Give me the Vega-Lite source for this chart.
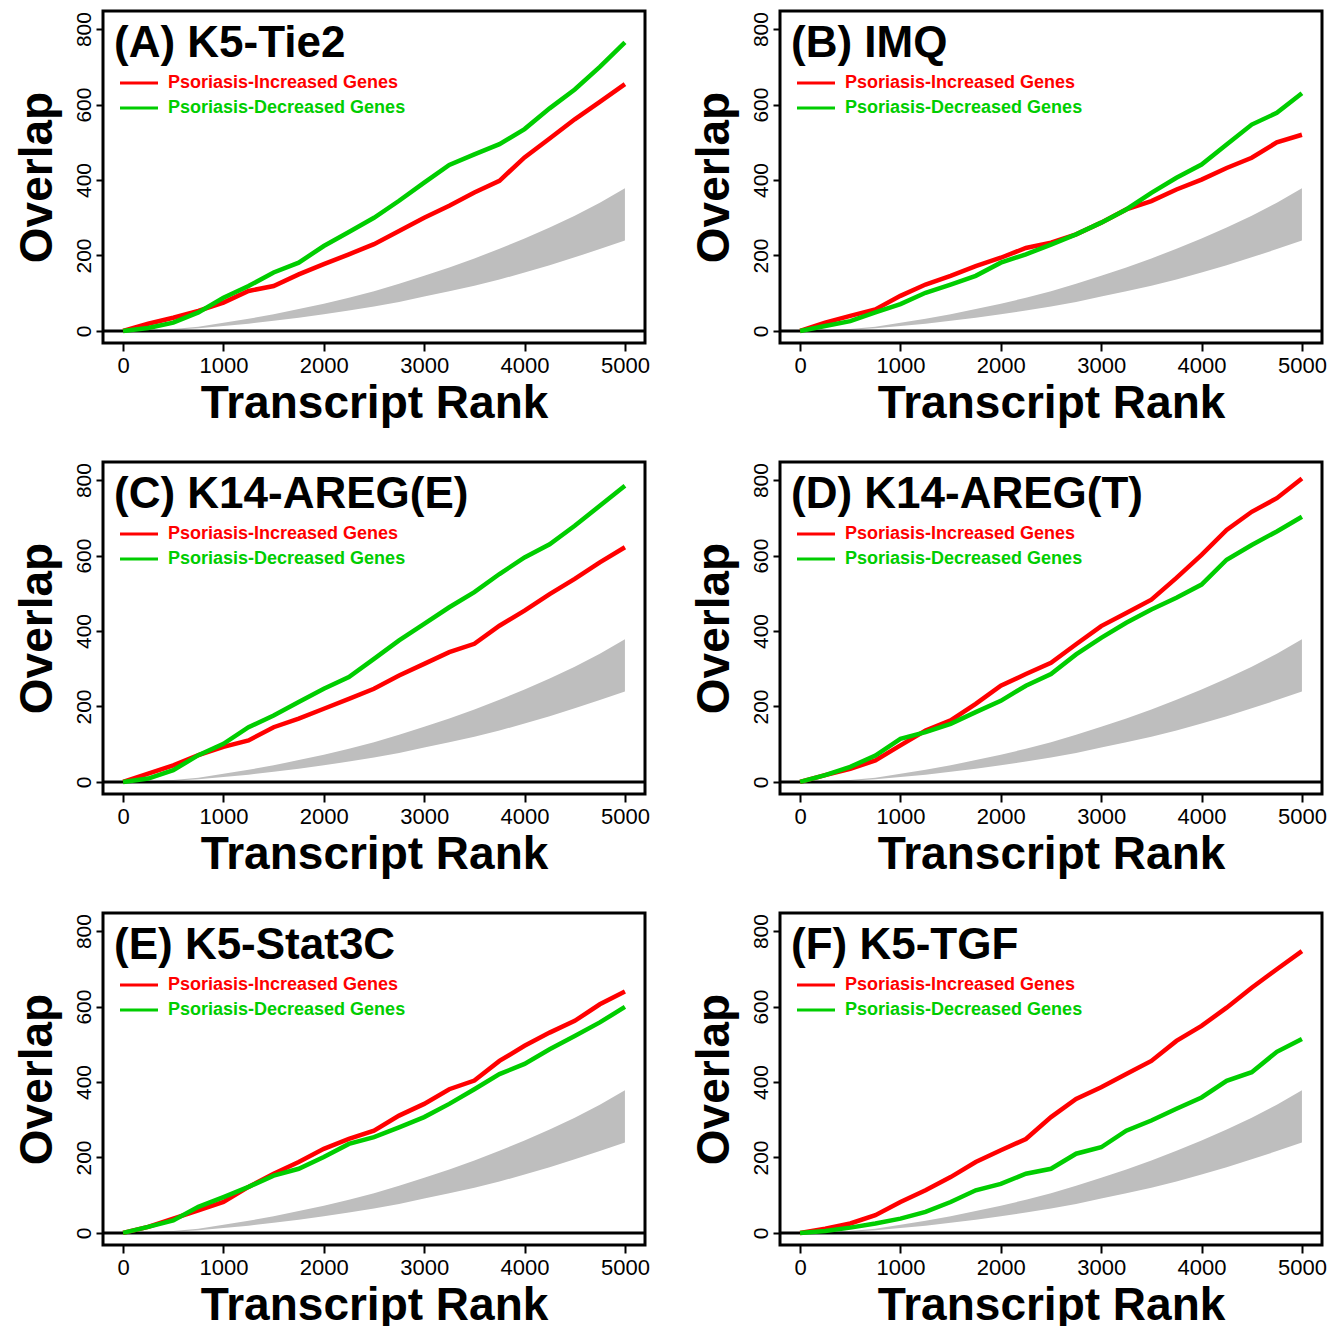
{
"$schema": "https://vega.github.io/schema/vega-lite/v6.json",
"padding": {"left": 12, "top": 9, "right": 0, "bottom": 0},
"background": "white",
"datasets": {
"band": [
{"x":0,"lower":0,"upper":0},{"x":250,"lower":1,"upper":2},{"x":500,"lower":3,"upper":5},{"x":750,"lower":7,"upper":11},{"x":1000,"lower":13,"upper":22},{"x":1250,"lower":19,"upper":32},{"x":1500,"lower":27,"upper":44},{"x":1750,"lower":35,"upper":58},{"x":2000,"lower":44,"upper":72},{"x":2250,"lower":54,"upper":88},{"x":2500,"lower":65,"upper":105},{"x":2750,"lower":77,"upper":125},{"x":3000,"lower":91,"upper":146},{"x":3250,"lower":105,"upper":168},{"x":3500,"lower":120,"upper":192},{"x":3750,"lower":136,"upper":218},{"x":4000,"lower":155,"upper":245},{"x":4250,"lower":174,"upper":274},{"x":4500,"lower":195,"upper":305},{"x":4750,"lower":217,"upper":340},{"x":5000,"lower":240,"upper":378}
],
"zero": [{"y":0}],
"lines": [
{"p":"A","x":0,"inc":0,"dec":0},{"p":"A","x":250,"inc":19,"dec":8},{"p":"A","x":500,"inc":35,"dec":22},{"p":"A","x":750,"inc":53,"dec":49},{"p":"A","x":1000,"inc":75,"dec":88},{"p":"A","x":1250,"inc":106,"dec":119},{"p":"A","x":1500,"inc":119,"dec":155},{"p":"A","x":1750,"inc":150,"dec":181},{"p":"A","x":2000,"inc":177,"dec":225},{"p":"A","x":2250,"inc":203,"dec":262},{"p":"A","x":2500,"inc":230,"dec":300},{"p":"A","x":2750,"inc":265,"dec":345},{"p":"A","x":3000,"inc":300,"dec":393},{"p":"A","x":3250,"inc":332,"dec":440},{"p":"A","x":3500,"inc":367,"dec":468},{"p":"A","x":3750,"inc":398,"dec":495},{"p":"A","x":4000,"inc":460,"dec":535},{"p":"A","x":4250,"inc":510,"dec":590},{"p":"A","x":4500,"inc":561,"dec":640},{"p":"A","x":4750,"inc":607,"dec":700},{"p":"A","x":5000,"inc":654,"dec":765},
{"p":"B","x":0,"inc":0,"dec":0},{"p":"B","x":250,"inc":22,"dec":13},{"p":"B","x":500,"inc":40,"dec":26},{"p":"B","x":750,"inc":57,"dec":49},{"p":"B","x":1000,"inc":93,"dec":71},{"p":"B","x":1250,"inc":123,"dec":101},{"p":"B","x":1500,"inc":146,"dec":123},{"p":"B","x":1750,"inc":172,"dec":146},{"p":"B","x":2000,"inc":194,"dec":181},{"p":"B","x":2250,"inc":220,"dec":203},{"p":"B","x":2500,"inc":234,"dec":229},{"p":"B","x":2750,"inc":256,"dec":256},{"p":"B","x":3000,"inc":287,"dec":287},{"p":"B","x":3250,"inc":322,"dec":322},{"p":"B","x":3500,"inc":344,"dec":366},{"p":"B","x":3750,"inc":375,"dec":406},{"p":"B","x":4000,"inc":401,"dec":441},{"p":"B","x":4250,"inc":432,"dec":494},{"p":"B","x":4500,"inc":459,"dec":547},{"p":"B","x":4750,"inc":500,"dec":578},{"p":"B","x":5000,"inc":520,"dec":630},
{"p":"C","x":0,"inc":0,"dec":0},{"p":"C","x":250,"inc":22,"dec":9},{"p":"C","x":500,"inc":44,"dec":31},{"p":"C","x":750,"inc":71,"dec":71},{"p":"C","x":1000,"inc":93,"dec":101},{"p":"C","x":1250,"inc":110,"dec":145},{"p":"C","x":1500,"inc":145,"dec":176},{"p":"C","x":1750,"inc":168,"dec":212},{"p":"C","x":2000,"inc":194,"dec":247},{"p":"C","x":2250,"inc":220,"dec":278},{"p":"C","x":2500,"inc":247,"dec":326},{"p":"C","x":2750,"inc":282,"dec":375},{"p":"C","x":3000,"inc":313,"dec":419},{"p":"C","x":3250,"inc":344,"dec":463},{"p":"C","x":3500,"inc":366,"dec":503},{"p":"C","x":3750,"inc":414,"dec":551},{"p":"C","x":4000,"inc":454,"dec":595},{"p":"C","x":4250,"inc":498,"dec":630},{"p":"C","x":4500,"inc":538,"dec":679},{"p":"C","x":4750,"inc":582,"dec":732},{"p":"C","x":5000,"inc":622,"dec":785},
{"p":"D","x":0,"inc":0,"dec":0},{"p":"D","x":250,"inc":18,"dec":18},{"p":"D","x":500,"inc":35,"dec":40},{"p":"D","x":750,"inc":57,"dec":70},{"p":"D","x":1000,"inc":97,"dec":114},{"p":"D","x":1250,"inc":136,"dec":132},{"p":"D","x":1500,"inc":163,"dec":154},{"p":"D","x":1750,"inc":207,"dec":185},{"p":"D","x":2000,"inc":255,"dec":215},{"p":"D","x":2250,"inc":286,"dec":255},{"p":"D","x":2500,"inc":316,"dec":286},{"p":"D","x":2750,"inc":365,"dec":338},{"p":"D","x":3000,"inc":413,"dec":382},{"p":"D","x":3250,"inc":448,"dec":422},{"p":"D","x":3500,"inc":483,"dec":457},{"p":"D","x":3750,"inc":541,"dec":488},{"p":"D","x":4000,"inc":602,"dec":523},{"p":"D","x":4250,"inc":668,"dec":589},{"p":"D","x":4500,"inc":716,"dec":628},{"p":"D","x":4750,"inc":752,"dec":664},{"p":"D","x":5000,"inc":804,"dec":703},
{"p":"E","x":0,"inc":0,"dec":0},{"p":"E","x":250,"inc":16,"dec":16},{"p":"E","x":500,"inc":38,"dec":33},{"p":"E","x":750,"inc":60,"dec":69},{"p":"E","x":1000,"inc":82,"dec":95},{"p":"E","x":1250,"inc":122,"dec":122},{"p":"E","x":1500,"inc":157,"dec":152},{"p":"E","x":1750,"inc":188,"dec":170},{"p":"E","x":2000,"inc":223,"dec":201},{"p":"E","x":2250,"inc":249,"dec":236},{"p":"E","x":2500,"inc":271,"dec":254},{"p":"E","x":2750,"inc":311,"dec":280},{"p":"E","x":3000,"inc":342,"dec":307},{"p":"E","x":3250,"inc":381,"dec":342},{"p":"E","x":3500,"inc":404,"dec":381},{"p":"E","x":3750,"inc":456,"dec":421},{"p":"E","x":4000,"inc":496,"dec":448},{"p":"E","x":4250,"inc":531,"dec":487},{"p":"E","x":4500,"inc":562,"dec":522},{"p":"E","x":4750,"inc":606,"dec":558},{"p":"E","x":5000,"inc":640,"dec":599},
{"p":"F","x":0,"inc":0,"dec":0},{"p":"F","x":250,"inc":11,"dec":5},{"p":"F","x":500,"inc":25,"dec":14},{"p":"F","x":750,"inc":47,"dec":25},{"p":"F","x":1000,"inc":82,"dec":38},{"p":"F","x":1250,"inc":113,"dec":56},{"p":"F","x":1500,"inc":148,"dec":82},{"p":"F","x":1750,"inc":188,"dec":113},{"p":"F","x":2000,"inc":219,"dec":130},{"p":"F","x":2250,"inc":249,"dec":157},{"p":"F","x":2500,"inc":307,"dec":170},{"p":"F","x":2750,"inc":355,"dec":210},{"p":"F","x":3000,"inc":386,"dec":227},{"p":"F","x":3250,"inc":421,"dec":271},{"p":"F","x":3500,"inc":456,"dec":298},{"p":"F","x":3750,"inc":509,"dec":329},{"p":"F","x":4000,"inc":549,"dec":359},{"p":"F","x":4250,"inc":597,"dec":403},{"p":"F","x":4500,"inc":650,"dec":426},{"p":"F","x":4750,"inc":699,"dec":480},{"p":"F","x":5000,"inc":747,"dec":514}
]
},
"columns": 2,
"spacing": {"row": 119, "column": 135},
"bounds": "flush",
"resolve": {"legend": {"color": "independent"}},
"concat": [
{"width": 542, "height": 332, "layer": [
 {"data": {"name": "band"}, "mark": {"type": "area", "color": "#bebebe"}, "encoding": {"x": {"field": "x", "type": "quantitative", "title": "Transcript Rank", "scale": {"domain": [-200, 5200], "nice": false, "zero": false}, "axis": {"values": [0,1000,2000,3000,4000,5000], "format": "d"}}, "y": {"field": "upper", "type": "quantitative", "title": "Overlap", "scale": {"domain": [-32, 848], "nice": false, "zero": false}, "axis": {"values": [0,200,400,600,800], "format": "d"}}, "y2": {"field": "lower"}}},
 {"data": {"name": "zero"}, "mark": {"type": "rule", "color": "black", "strokeWidth": 3}, "encoding": {"y": {"field": "y", "type": "quantitative", "title": "Overlap"}}},
 {"data": {"name": "lines"}, "transform": [{"filter": "datum.p == 'A'"}, {"fold": ["inc", "dec"], "as": ["series", "overlap"]}], "mark": {"type": "line", "strokeWidth": 4.5}, "encoding": {"x": {"field": "x", "type": "quantitative", "title": "Transcript Rank"}, "y": {"field": "overlap", "type": "quantitative", "title": "Overlap"}, "color": {"field": "series", "type": "nominal", "scale": {"domain": ["inc", "dec"], "range": ["#ff0000", "#00cd00"]}, "legend": {"title": "(A) K5-Tie2", "labelExpr": "datum.value == 'inc' ? 'Psoriasis-Increased Genes' : 'Psoriasis-Decreased Genes'"}}}}
]},
{"width": 542, "height": 332, "layer": [
 {"data": {"name": "band"}, "mark": {"type": "area", "color": "#bebebe"}, "encoding": {"x": {"field": "x", "type": "quantitative", "title": "Transcript Rank", "scale": {"domain": [-200, 5200], "nice": false, "zero": false}, "axis": {"values": [0,1000,2000,3000,4000,5000], "format": "d"}}, "y": {"field": "upper", "type": "quantitative", "title": "Overlap", "scale": {"domain": [-32, 848], "nice": false, "zero": false}, "axis": {"values": [0,200,400,600,800], "format": "d"}}, "y2": {"field": "lower"}}},
 {"data": {"name": "zero"}, "mark": {"type": "rule", "color": "black", "strokeWidth": 3}, "encoding": {"y": {"field": "y", "type": "quantitative", "title": "Overlap"}}},
 {"data": {"name": "lines"}, "transform": [{"filter": "datum.p == 'B'"}, {"fold": ["inc", "dec"], "as": ["series", "overlap"]}], "mark": {"type": "line", "strokeWidth": 4.5}, "encoding": {"x": {"field": "x", "type": "quantitative", "title": "Transcript Rank"}, "y": {"field": "overlap", "type": "quantitative", "title": "Overlap"}, "color": {"field": "series", "type": "nominal", "scale": {"domain": ["inc", "dec"], "range": ["#ff0000", "#00cd00"]}, "legend": {"title": "(B) IMQ", "labelExpr": "datum.value == 'inc' ? 'Psoriasis-Increased Genes' : 'Psoriasis-Decreased Genes'"}}}}
]},
{"width": 542, "height": 332, "layer": [
 {"data": {"name": "band"}, "mark": {"type": "area", "color": "#bebebe"}, "encoding": {"x": {"field": "x", "type": "quantitative", "title": "Transcript Rank", "scale": {"domain": [-200, 5200], "nice": false, "zero": false}, "axis": {"values": [0,1000,2000,3000,4000,5000], "format": "d"}}, "y": {"field": "upper", "type": "quantitative", "title": "Overlap", "scale": {"domain": [-32, 848], "nice": false, "zero": false}, "axis": {"values": [0,200,400,600,800], "format": "d"}}, "y2": {"field": "lower"}}},
 {"data": {"name": "zero"}, "mark": {"type": "rule", "color": "black", "strokeWidth": 3}, "encoding": {"y": {"field": "y", "type": "quantitative", "title": "Overlap"}}},
 {"data": {"name": "lines"}, "transform": [{"filter": "datum.p == 'C'"}, {"fold": ["inc", "dec"], "as": ["series", "overlap"]}], "mark": {"type": "line", "strokeWidth": 4.5}, "encoding": {"x": {"field": "x", "type": "quantitative", "title": "Transcript Rank"}, "y": {"field": "overlap", "type": "quantitative", "title": "Overlap"}, "color": {"field": "series", "type": "nominal", "scale": {"domain": ["inc", "dec"], "range": ["#ff0000", "#00cd00"]}, "legend": {"title": "(C) K14-AREG(E)", "labelExpr": "datum.value == 'inc' ? 'Psoriasis-Increased Genes' : 'Psoriasis-Decreased Genes'"}}}}
]},
{"width": 542, "height": 332, "layer": [
 {"data": {"name": "band"}, "mark": {"type": "area", "color": "#bebebe"}, "encoding": {"x": {"field": "x", "type": "quantitative", "title": "Transcript Rank", "scale": {"domain": [-200, 5200], "nice": false, "zero": false}, "axis": {"values": [0,1000,2000,3000,4000,5000], "format": "d"}}, "y": {"field": "upper", "type": "quantitative", "title": "Overlap", "scale": {"domain": [-32, 848], "nice": false, "zero": false}, "axis": {"values": [0,200,400,600,800], "format": "d"}}, "y2": {"field": "lower"}}},
 {"data": {"name": "zero"}, "mark": {"type": "rule", "color": "black", "strokeWidth": 3}, "encoding": {"y": {"field": "y", "type": "quantitative", "title": "Overlap"}}},
 {"data": {"name": "lines"}, "transform": [{"filter": "datum.p == 'D'"}, {"fold": ["inc", "dec"], "as": ["series", "overlap"]}], "mark": {"type": "line", "strokeWidth": 4.5}, "encoding": {"x": {"field": "x", "type": "quantitative", "title": "Transcript Rank"}, "y": {"field": "overlap", "type": "quantitative", "title": "Overlap"}, "color": {"field": "series", "type": "nominal", "scale": {"domain": ["inc", "dec"], "range": ["#ff0000", "#00cd00"]}, "legend": {"title": "(D) K14-AREG(T)", "labelExpr": "datum.value == 'inc' ? 'Psoriasis-Increased Genes' : 'Psoriasis-Decreased Genes'"}}}}
]},
{"width": 542, "height": 332, "layer": [
 {"data": {"name": "band"}, "mark": {"type": "area", "color": "#bebebe"}, "encoding": {"x": {"field": "x", "type": "quantitative", "title": "Transcript Rank", "scale": {"domain": [-200, 5200], "nice": false, "zero": false}, "axis": {"values": [0,1000,2000,3000,4000,5000], "format": "d"}}, "y": {"field": "upper", "type": "quantitative", "title": "Overlap", "scale": {"domain": [-32, 848], "nice": false, "zero": false}, "axis": {"values": [0,200,400,600,800], "format": "d"}}, "y2": {"field": "lower"}}},
 {"data": {"name": "zero"}, "mark": {"type": "rule", "color": "black", "strokeWidth": 3}, "encoding": {"y": {"field": "y", "type": "quantitative", "title": "Overlap"}}},
 {"data": {"name": "lines"}, "transform": [{"filter": "datum.p == 'E'"}, {"fold": ["inc", "dec"], "as": ["series", "overlap"]}], "mark": {"type": "line", "strokeWidth": 4.5}, "encoding": {"x": {"field": "x", "type": "quantitative", "title": "Transcript Rank"}, "y": {"field": "overlap", "type": "quantitative", "title": "Overlap"}, "color": {"field": "series", "type": "nominal", "scale": {"domain": ["inc", "dec"], "range": ["#ff0000", "#00cd00"]}, "legend": {"title": "(E) K5-Stat3C", "labelExpr": "datum.value == 'inc' ? 'Psoriasis-Increased Genes' : 'Psoriasis-Decreased Genes'"}}}}
]},
{"width": 542, "height": 332, "layer": [
 {"data": {"name": "band"}, "mark": {"type": "area", "color": "#bebebe"}, "encoding": {"x": {"field": "x", "type": "quantitative", "title": "Transcript Rank", "scale": {"domain": [-200, 5200], "nice": false, "zero": false}, "axis": {"values": [0,1000,2000,3000,4000,5000], "format": "d"}}, "y": {"field": "upper", "type": "quantitative", "title": "Overlap", "scale": {"domain": [-32, 848], "nice": false, "zero": false}, "axis": {"values": [0,200,400,600,800], "format": "d"}}, "y2": {"field": "lower"}}},
 {"data": {"name": "zero"}, "mark": {"type": "rule", "color": "black", "strokeWidth": 3}, "encoding": {"y": {"field": "y", "type": "quantitative", "title": "Overlap"}}},
 {"data": {"name": "lines"}, "transform": [{"filter": "datum.p == 'F'"}, {"fold": ["inc", "dec"], "as": ["series", "overlap"]}], "mark": {"type": "line", "strokeWidth": 4.5}, "encoding": {"x": {"field": "x", "type": "quantitative", "title": "Transcript Rank"}, "y": {"field": "overlap", "type": "quantitative", "title": "Overlap"}, "color": {"field": "series", "type": "nominal", "scale": {"domain": ["inc", "dec"], "range": ["#ff0000", "#00cd00"]}, "legend": {"title": "(F) K5-TGF", "labelExpr": "datum.value == 'inc' ? 'Psoriasis-Increased Genes' : 'Psoriasis-Decreased Genes'"}}}}
]}
],
"config": {
 "view": {"stroke": "black", "strokeWidth": 3},
 "font": "Liberation Sans",
 "axis": {"labelFont": "Liberation Sans", "labelFontSize": 22, "labelColor": "black", "tickColor": "black", "tickWidth": 2, "tickSize": 8, "domain": false, "grid": false, "labelOverlap": false, "titleFont": "Liberation Sans", "titleFontSize": 46, "titleFontWeight": "bold", "titleColor": "black"},
 "axisX": {"labelPadding": 4, "titlePadding": 5, "labelFlush": false},
 "axisY": {"labelAngle": -90, "labelAlign": "center", "labelBaseline": "bottom", "labelPadding": 2, "labelFontSize": 21, "tickSize": 7, "titlePadding": 12},
 "legend": {"orient": "top-left", "offset": 11, "padding": 0, "titleFont": "Liberation Sans", "titleFontSize": 44, "titleFontWeight": "bold", "titleColor": "black", "titlePadding": 6, "titleLimit": 600, "labelFont": "Liberation Sans", "labelFontSize": 18, "labelFontWeight": "bold", "labelLimit": 500, "labelOffset": 18, "symbolOffset": 14, "symbolType": "M-2,0H2", "symbolSize": 361, "symbolStrokeWidth": 3, "rowPadding": 5, "labelColor": {"expr": "datum.value == 'inc' ? '#ff0000' : '#00cd00'"}}
}
}
